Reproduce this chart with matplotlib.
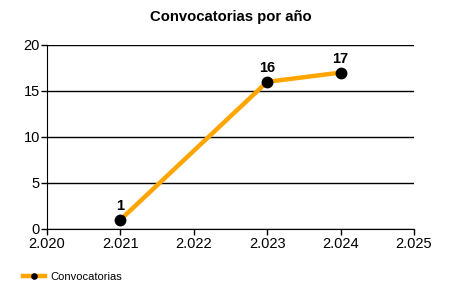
import matplotlib.pyplot as plt

plt.rcParams['font.family'] = ['Liberation Sans', 'DejaVu Sans']

years = [2021, 2023, 2024]
counts = [1, 16, 17]
xticks = [2020, 2021, 2022, 2023, 2024, 2025]
xtick_labels = ['2.020', '2.021', '2.022', '2.023', '2.024', '2.025']
yticks = [0, 5, 10, 15, 20]

fig = plt.figure(figsize=(4.5, 3), dpi=100)
ax = fig.add_axes([0.1044, 0.2367, 0.8156, 0.6133])

ax.plot(years, counts, color='#FFA500', lw=3.2, marker='o', ms=7.5,
        mfc='black', mec='black', label='Convocatorias', zorder=3)
for x, y in zip(years, counts):
    ax.annotate(str(y), (x, y), xytext=(0, 5), textcoords='offset points',
                ha='center', va='bottom', fontsize=10.5, fontweight='bold')

ax.set_xlim(2020, 2025)
ax.set_ylim(0, 20)
ax.set_xticks(xticks)
ax.set_xticklabels(xtick_labels)
ax.set_yticks(yticks)
ax.tick_params(labelsize=10.5, length=4, width=1, color='black', pad=1)
ax.tick_params(axis='x', pad=2)
ax.yaxis.grid(True, color='black', lw=1)
ax.set_axisbelow(True)
ax.spines['top'].set_visible(False)
ax.spines['right'].set_visible(False)

ax.set_title('Convocatorias por año', fontsize=10.7, fontweight='bold', pad=17)

leg = fig.legend(loc='center left', bbox_to_anchor=(0.05, 0.077), frameon=False,
                 fontsize=8, handlelength=2.0, handletextpad=0.5,
                 markerscale=0.5, borderpad=0, borderaxespad=0)

fig.savefig('out.png', dpi=100)
